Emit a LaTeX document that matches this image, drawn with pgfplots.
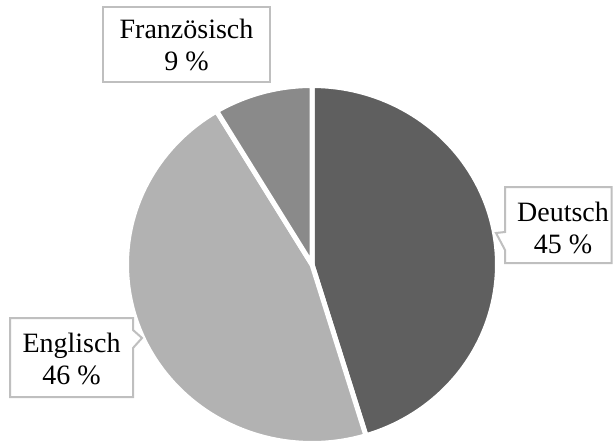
\documentclass[border=0pt]{standalone}
\usepackage{pgfplots}
\usepackage{pgfplotstable}
\pgfplotsset{compat=1.18}
\usepackage{fontspec}
\setmainfont{Liberation Serif}

\definecolor{cDe}{RGB}{95,95,95}
\definecolor{cEn}{RGB}{178,178,178}
\definecolor{cFr}{RGB}{138,138,138}
\definecolor{boxgray}{RGB}{191,191,191}

\pgfplotstableread{
lang share
Deutsch 45.3
Englisch 46.1
Franzoesisch 8.6
}\piedata

\begin{document}
\begin{tikzpicture}
\pgfplotstablegetelem{0}{share}\of\piedata \let\sDe\pgfplotsretval
\pgfplotstablegetelem{1}{share}\of\piedata \let\sEn\pgfplotsretval
\pgfplotstablegetelem{2}{share}\of\piedata \let\sFr\pgfplotsretval
\pgfmathsetmacro\aA{90}
\pgfmathsetmacro\aB{\aA-3.6*\sDe}
\pgfmathsetmacro\aC{\aB-3.6*\sEn}
\pgfmathsetmacro\aD{\aC-3.6*\sFr}
\begin{axis}[
  width=459.75pt, height=331.5pt, scale only axis,
  xmin=0, xmax=613, ymin=0, ymax=442, y dir=reverse,
  hide axis, clip=false,
]
\addplot[fill=cDe, draw=white, line width=3.75pt, line join=round, domain=\aA:\aB, samples=90, variable=\t]
  ({312+185.5*cos(\t)}, {264.5-179*sin(\t)}) -- (axis cs:312,264.5) -- cycle;
\addplot[fill=cEn, draw=white, line width=3.75pt, line join=round, domain=\aB:\aC, samples=90, variable=\t]
  ({312+185.5*cos(\t)}, {264.5-179*sin(\t)}) -- (axis cs:312,264.5) -- cycle;
\addplot[fill=cFr, draw=white, line width=3.75pt, line join=round, domain=\aC:\aD, samples=30, variable=\t]
  ({312+185.5*cos(\t)}, {264.5-179*sin(\t)}) -- (axis cs:312,264.5) -- cycle;

% label boxes
\draw[boxgray, line width=1.5pt, fill=white] (axis cs:103,7) rectangle (axis cs:270,82);
\draw[boxgray, line width=1.5pt, fill=white, line join=miter]
  (axis cs:505,187) -- (axis cs:611.5,187) -- (axis cs:611.5,263) -- (axis cs:505,263)
  -- (axis cs:505,250) -- (axis cs:496,233) -- (axis cs:505,232) -- cycle;
\draw[boxgray, line width=1.5pt, fill=white, line join=miter]
  (axis cs:10,318) -- (axis cs:133,318) -- (axis cs:133,330) -- (axis cs:142,338)
  -- (axis cs:133,348) -- (axis cs:133,397) -- (axis cs:10,397) -- cycle;

\node[align=center, inner sep=0pt, font=\fontsize{21}{24}\selectfont] at (axis cs:186.5,45) {Französisch\\9 \%};
\node[align=center, inner sep=0pt, font=\fontsize{21}{24}\selectfont] at (axis cs:563,228) {Deutsch\\45 \%};
\node[align=center, inner sep=0pt, font=\fontsize{21}{24}\selectfont] at (axis cs:71.5,359) {Englisch\\46 \%};
\end{axis}
\pgfresetboundingbox
\path (current axis.south west) rectangle (current axis.north east);
\end{tikzpicture}
\end{document}
